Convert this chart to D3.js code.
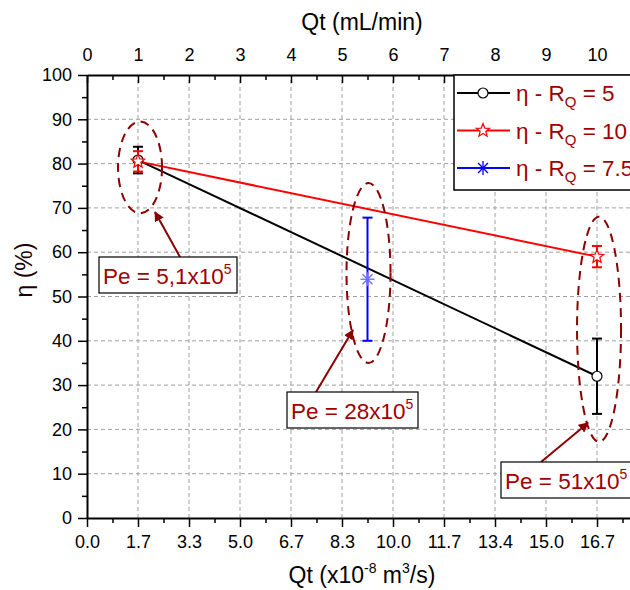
<!DOCTYPE html>
<html>
<head>
<meta charset="utf-8">
<script src="https://cdn.jsdelivr.net/npm/d3@7"></script>
<style>
  body { margin: 0; background: #fff; }
  svg { display: block; font-family: "Liberation Sans", Arial, sans-serif; }
</style>
</head>
<body>
<div id="chart"></div>
<script>
// top axis (mL/min) and the matching bottom labels (x10^-8 m3/s)
const topTicks = [0, 1, 2, 3, 4, 5, 6, 7, 8, 9, 10];
const bottomLabels = ["0.0", "1.7", "3.3", "5.0", "6.7", "8.3", "10.0", "11.7", "13.4", "15.0", "16.7"];
const yTicks = [0, 10, 20, 30, 40, 50, 60, 70, 80, 90, 100];

// eta - RQ = 5
const qRq5 = [1, 10];
const etaRq5 = [80.8, 32.0];
const errRq5 = [3.0, 8.5];
// eta - RQ = 10
const qRq10 = [1, 10];
const etaRq10 = [80.5, 59.0];
const errRq10 = [2.3, 2.4];
// eta - RQ = 7.5
const qRq75 = [5.5];
const etaRq75 = [53.9];
const errRq75 = [13.9];

const legendValues = ["5", "10", "7.5"];

// Peclet annotations: ellipse centre (mL/min) and vertical extent (%)
const peMantissa = ["5,1", "28", "51"];
const peQ = [1.04, 5.52, 10.04];
const peTop = [89.5, 75.6, 68.0];
const peBottom = [68.8, 35.0, 17.2];

const W = 630, H = 590;
const dark = "#8b0000", labelRed = "#a00000";

const svg = d3.select("#chart").append("svg")
    .attr("width", W)
    .attr("height", H);

const x = d3.scaleLinear().domain([0, 10.8]).range([87, 637.8]);
const y = d3.scaleLinear().domain([0, 100]).range([518, 75]);

const halfTicks = d3.range(0.5, 10.8, 1);
const minorY = d3.range(5, 100, 10);

// grid
const grid = svg.append("g")
    .attr("stroke", "#a0a0a0")
    .attr("stroke-width", 1)
    .attr("stroke-dasharray", "4,3");
grid.selectAll(".gx")
    .data(topTicks.slice(1))
    .enter()
    .append("line")
      .attr("x1", d => x(d)).attr("x2", d => x(d))
      .attr("y1", y(0)).attr("y2", y(100));
grid.selectAll(".gy")
    .data(yTicks.slice(1, -1))
    .enter()
    .append("line")
      .attr("x1", x(0)).attr("x2", x(10.8))
      .attr("y1", d => y(d)).attr("y2", d => y(d));

// axes
function styleAxis(g) {
  g.select(".domain").attr("stroke-width", 2);
  g.selectAll(".tick line").attr("stroke-width", 1.5);
  g.selectAll("text").attr("font-size", 18).attr("fill", "#000");
}

svg.append("g")
    .attr("transform", `translate(0,${y(0)})`)
    .call(d3.axisBottom(x).tickValues(halfTicks).tickSize(5).tickFormat(""))
    .call(g => g.select(".domain").remove())
    .call(g => g.selectAll("line").attr("stroke-width", 1.5));
svg.append("g")
    .attr("transform", `translate(0,${y(0)})`)
    .call(d3.axisBottom(x).tickValues(topTicks).tickSize(9).tickPadding(8)
      .tickFormat((d, i) => bottomLabels[i]).tickSizeOuter(0))
    .call(styleAxis);

svg.append("g")
    .attr("transform", `translate(0,${y(100)})`)
    .call(d3.axisTop(x).tickValues(halfTicks).tickSize(-5).tickFormat(""))
    .call(g => g.select(".domain").remove())
    .call(g => g.selectAll("line").attr("stroke-width", 1.5));
svg.append("g")
    .attr("transform", `translate(0,${y(100)})`)
    .call(d3.axisTop(x).tickValues(topTicks).tickSize(-8).tickPadding(14).tickSizeOuter(0))
    .call(styleAxis);

svg.append("g")
    .attr("transform", `translate(${x(0)},0)`)
    .call(d3.axisLeft(y).tickValues(minorY).tickSize(5).tickFormat(""))
    .call(g => g.select(".domain").remove())
    .call(g => g.selectAll("line").attr("stroke-width", 1.5));
svg.append("g")
    .attr("transform", `translate(${x(0)},0)`)
    .call(d3.axisLeft(y).tickValues(yTicks).tickSize(9).tickPadding(6).tickSizeOuter(0))
    .call(styleAxis);

// axis titles
svg.append("text")
    .attr("x", 362).attr("y", 30)
    .attr("text-anchor", "middle")
    .attr("font-size", 23)
    .text("Qt (mL/min)");

const bt = svg.append("text")
    .attr("x", 362).attr("y", 583)
    .attr("text-anchor", "middle")
    .attr("font-size", 23);
bt.append("tspan").text("Qt (x10");
bt.append("tspan").attr("font-size", 14).attr("dy", -10).text("-8");
bt.append("tspan").attr("dy", 10).text(" m");
bt.append("tspan").attr("font-size", 14).attr("dy", -10).text("3");
bt.append("tspan").attr("dy", 10).text("/s)");

svg.append("text")
    .attr("transform", `translate(32,270) rotate(-90)`)
    .attr("text-anchor", "middle")
    .attr("font-size", 23)
    .attr("fill", "#1a0000")
    .text("η (%)");

// markers
function circleMark(g, cx, cy) {
  g.append("circle").attr("cx", cx).attr("cy", cy).attr("r", 5)
    .attr("fill", "#fff").attr("stroke", "#000").attr("stroke-width", 1.2);
}
function starMark(g, cx, cy) {
  const pts = d3.range(10).map(i => {
    const a = -Math.PI / 2 + i * Math.PI / 5;
    const r = i % 2 ? 3 : 7;
    return [cx + r * Math.cos(a), cy + r * Math.sin(a)];
  });
  g.append("polygon").attr("points", pts.map(p => p.join(",")).join(" "))
    .attr("fill", "#fff").attr("stroke", "#ff0000").attr("stroke-width", 1.2);
}
function asteriskMark(g, cx, cy, col) {
  [0, 45, 90, 135].forEach(a => {
    const r = 7, t = a * Math.PI / 180;
    g.append("line")
      .attr("x1", cx - r * Math.cos(t)).attr("y1", cy - r * Math.sin(t))
      .attr("x2", cx + r * Math.cos(t)).attr("y2", cy + r * Math.sin(t))
      .attr("stroke", col).attr("stroke-width", 1.3);
  });
}

function errorBars(g, qs, vals, errs, col) {
  qs.forEach((q, i) => {
    const cx = x(q), y1 = y(vals[i] + errs[i]), y2 = y(vals[i] - errs[i]);
    g.append("line").attr("x1", cx).attr("x2", cx).attr("y1", y1).attr("y2", y2)
      .attr("stroke", col).attr("stroke-width", 2);
    [y1, y2].forEach(yy => g.append("line")
      .attr("x1", cx - 5).attr("x2", cx + 5).attr("y1", yy).attr("y2", yy)
      .attr("stroke", col).attr("stroke-width", 2));
  });
}

const line = d3.line().x(d => x(d[0])).y(d => y(d[1]));
const plot = svg.append("g");

// RQ = 5
errorBars(plot, qRq5, etaRq5, errRq5, "#000");
plot.append("path").datum(qRq5.map((q, i) => [q, etaRq5[i]]))
    .attr("d", line).attr("fill", "none").attr("stroke", "#000").attr("stroke-width", 2);
// RQ = 10
errorBars(plot, qRq10, etaRq10, errRq10, "#ff0000");
plot.append("path").datum(qRq10.map((q, i) => [q, etaRq10[i]]))
    .attr("d", line).attr("fill", "none").attr("stroke", "#ff0000").attr("stroke-width", 2);
qRq5.forEach((q, i) => circleMark(plot, x(q), y(etaRq5[i])));
qRq10.forEach((q, i) => starMark(plot, x(q), y(etaRq10[i])));
// RQ = 7.5
errorBars(plot, qRq75, etaRq75, errRq75, "#0000ff");
qRq75.forEach((q, i) => asteriskMark(plot, x(q), y(etaRq75[i]), "#6a6aff"));

// Peclet ellipses, boxes and arrows
const boxes = [
  { x: 99, y: 257, w: 138, tx: 180, tip: [155, 212] },
  { x: 287, y: 392, w: 131, tx: 316, tip: [353, 330] },
  { x: 501, y: 462, w: 150, tx: 541, tip: [588, 423] }
];

svg.append("defs").append("marker")
    .attr("id", "head")
    .attr("viewBox", "0 0 10 10")
    .attr("refX", 9).attr("refY", 5)
    .attr("markerWidth", 5).attr("markerHeight", 5)
    .attr("markerUnits", "strokeWidth")
    .attr("orient", "auto")
  .append("path")
    .attr("d", "M0,0 L10,5 L0,10 z")
    .attr("fill", dark);

const ann = svg.append("g");
peMantissa.forEach((m, i) => {
  const cy = (y(peTop[i]) + y(peBottom[i])) / 2;
  ann.append("ellipse")
    .attr("cx", x(peQ[i])).attr("cy", cy)
    .attr("rx", 22).attr("ry", (y(peBottom[i]) - y(peTop[i])) / 2)
    .attr("fill", "none").attr("stroke", dark)
    .attr("stroke-width", 2).attr("stroke-dasharray", "9,6");

  const b = boxes[i];
  ann.append("line")
    .attr("x1", b.tx).attr("y1", b.y)
    .attr("x2", b.tip[0]).attr("y2", b.tip[1])
    .attr("stroke", dark).attr("stroke-width", 2)
    .attr("marker-end", "url(#head)");
  ann.append("rect")
    .attr("x", b.x).attr("y", b.y).attr("width", b.w).attr("height", 36)
    .attr("fill", "#fff").attr("stroke", "#000").attr("stroke-width", 1.2);
  const t = ann.append("text")
    .attr("x", b.x + 4).attr("y", b.y + 27)
    .attr("font-size", 22.5).attr("fill", labelRed);
  t.append("tspan").text(`Pe = ${m}x10`);
  t.append("tspan").attr("font-size", 14).attr("dy", -10).text("5");
});

// legend
const lg = svg.append("g");
lg.append("rect")
    .attr("x", 454).attr("y", 75).attr("width", 200).attr("height", 115)
    .attr("fill", "#fff").attr("stroke", "#000").attr("stroke-width", 1.5);
const legendCols = ["#000", "#ff0000", "#0000ff"];
legendValues.forEach((v, i) => {
  const ly = 93 + i * 37.5;
  lg.append("line").attr("x1", 457).attr("x2", 510).attr("y1", ly).attr("y2", ly)
    .attr("stroke", legendCols[i]).attr("stroke-width", 2);
  if (i === 0) circleMark(lg, 483, ly);
  else if (i === 1) starMark(lg, 483, ly);
  else asteriskMark(lg, 483, ly, "#0000ff");
  const t = lg.append("text")
    .attr("x", 516).attr("y", ly + 8)
    .attr("font-size", 22.5).attr("fill", labelRed);
  t.append("tspan").text("η - R");
  t.append("tspan").attr("font-size", 15).attr("dy", 6).text("Q");
  t.append("tspan").attr("dy", -6).text(` = ${v}`);
});
</script>
</body>
</html>
